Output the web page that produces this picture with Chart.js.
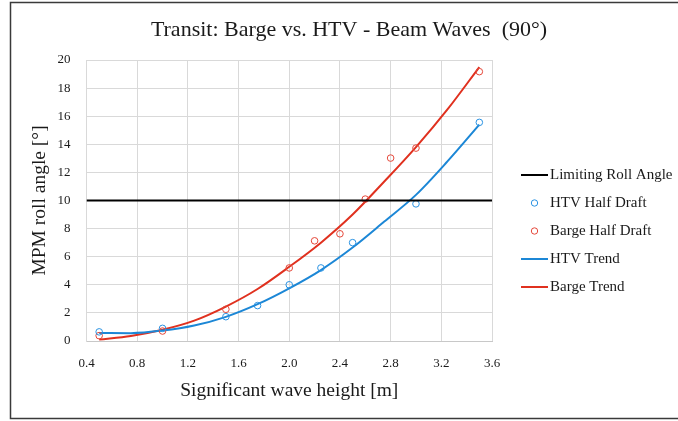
<!DOCTYPE html>
<html>
<head>
<meta charset="utf-8">
<script src="https://cdn.jsdelivr.net/npm/chart.js@4"></script>
<style>
html,body{margin:0;padding:0;background:#fff;}
#wrap{position:absolute;left:0;top:0;width:678px;height:421px;}
</style>
</head>
<body>
<div id="wrap"><canvas id="c" width="678" height="421"></canvas></div>
<script>
// ---- data ----
const limitX = [0.4, 3.6];
const limitY = [10, 10];

const htvX = [0.5, 1.0, 1.5, 1.75, 2.0, 2.25, 2.5, 3.0, 3.5];
const htvY = [0.65, 0.9, 1.73, 2.52, 4.0, 5.2, 7.0, 9.76, 15.56];

const bargeX = [0.5, 1.0, 1.5, 2.0, 2.2, 2.4, 2.6, 2.8, 3.0, 3.5];
const bargeY = [0.38, 0.71, 2.26, 5.2, 7.13, 7.63, 10.1, 13.02, 13.73, 19.17];

const trendX = [0.5, 0.75, 1.0, 1.25, 1.5, 1.75, 2.0, 2.25, 2.5, 2.75, 3.0, 3.25, 3.5];
const htvTrendY = [0.57, 0.56, 0.74, 1.1, 1.72, 2.62, 3.75, 5.05, 6.65, 8.5, 10.4, 12.8, 15.4];
const bargeTrendY = [0.1, 0.36, 0.8, 1.45, 2.45, 3.7, 5.28, 7.0, 9.0, 11.35, 13.8, 16.5, 19.5];

const xTicks = [0.4, 0.8, 1.2, 1.6, 2.0, 2.4, 2.8, 3.2, 3.6];
const yTicks = [0, 2, 4, 6, 8, 10, 12, 14, 16, 18, 20];

const seriesNames = ['Limiting Roll Angle', 'HTV Half Draft', 'Barge Half Draft', 'HTV Trend', 'Barge Trend'];
const titleText = 'Transit: Barge vs. HTV - Beam Waves  (90°)';
const xTitle = 'Significant wave height [m]';
const yTitle = 'MPM roll angle [°]';

const FONT = '"Liberation Serif", "Times New Roman", serif';
const TXT = '#1a1a1a';
const BLUE = '#1c87d6';
const RED = '#e0311f';
const BLUE_PT = '#2a92e2';
const RED_PT = '#e5483a';

function pts(xs, ys) { return xs.map((x, i) => ({x: x, y: ys[i]})); }

const frame = {
  id: 'frame',
  afterDraw(chart) {
    const ctx = chart.ctx;
    ctx.save();
    ctx.strokeStyle = '#3a3a3a';
    ctx.lineWidth = 1.5;
    ctx.strokeRect(10.5, 2.5, 680, 416);
    ctx.restore();
  }
};

const topTitle = {
  id: 'topTitle',
  afterDraw(chart) {
    const ctx = chart.ctx;
    ctx.save();
    ctx.font = '22px ' + FONT;
    ctx.fillStyle = TXT;
    ctx.textAlign = 'center';
    ctx.textBaseline = 'middle';
    ctx.fillText(titleText, 349, 30);
    ctx.restore();
  }
};

const sideLegend = {
  id: 'sideLegend',
  afterDraw(chart) {
    const ctx = chart.ctx;
    const ca = chart.chartArea;
    const x0 = ca.right + 29, x1 = ca.right + 56, tx = ca.right + 58;
    ctx.save();
    ctx.font = '15px ' + FONT;
    ctx.textBaseline = 'middle';
    ctx.textAlign = 'left';
    chart.data.datasets.forEach((ds, i) => {
      const y = 175 + i * 28;
      if (ds.showLine) {
        ctx.strokeStyle = ds.borderColor;
        ctx.lineWidth = ds.borderWidth;
        ctx.beginPath();
        ctx.moveTo(x0, y);
        ctx.lineTo(x1, y);
        ctx.stroke();
      } else {
        ctx.strokeStyle = ds.pointBorderColor;
        ctx.lineWidth = 1;
        ctx.beginPath();
        ctx.arc((x0 + x1) / 2, y, 3.2, 0, Math.PI * 2);
        ctx.stroke();
      }
      ctx.fillStyle = TXT;
      ctx.fillText(ds.label, tx, y + 0.5);
    });
    ctx.restore();
  }
};

new Chart(document.getElementById('c'), {
  type: 'scatter',
  data: {
    datasets: [
      {label: seriesNames[0], data: pts(limitX, limitY), showLine: true, borderColor: '#000', borderWidth: 2, pointRadius: 0},
      {label: seriesNames[1], data: pts(htvX, htvY), showLine: false, pointStyle: 'circle', pointRadius: 3.3, pointBorderWidth: 1, pointBorderColor: BLUE_PT, pointBackgroundColor: 'rgba(0,0,0,0)', borderColor: BLUE_PT},
      {label: seriesNames[2], data: pts(bargeX, bargeY), showLine: false, pointStyle: 'circle', pointRadius: 3.3, pointBorderWidth: 1, pointBorderColor: RED_PT, pointBackgroundColor: 'rgba(0,0,0,0)', borderColor: RED_PT},
      {label: seriesNames[3], data: pts(trendX, htvTrendY), showLine: true, borderColor: BLUE, borderWidth: 2, pointRadius: 0, cubicInterpolationMode: 'monotone'},
      {label: seriesNames[4], data: pts(trendX, bargeTrendY), showLine: true, borderColor: RED, borderWidth: 2, pointRadius: 0, cubicInterpolationMode: 'monotone'}
    ]
  },
  options: {
    responsive: false,
    animation: false,
    devicePixelRatio: 1,
    layout: {padding: {left: 20, right: 186, top: 60, bottom: 0}},
    plugins: {
      legend: {display: false},
      tooltip: {enabled: false},
      title: {display: false}
    },
    scales: {
      x: {
        type: 'linear',
        min: 0.4, max: 3.6,
        afterBuildTicks(scale) { scale.ticks = xTicks.map(v => ({value: v})); },
        afterFit(scale) { scale.height = 80; },
        grid: {color: '#d9d9d9', lineWidth: 1, drawTicks: false},
        border: {color: '#c8c8c8', width: 1},
        ticks: {
          padding: 15,
          color: TXT,
          font: {family: FONT, size: 13},
          callback: v => v.toFixed(1)
        },
        title: {
          display: true, text: xTitle, color: TXT,
          font: {family: FONT, size: 19.5},
          padding: {top: 0, bottom: 18}
        }
      },
      y: {
        type: 'linear',
        min: 0, max: 20,
        afterBuildTicks(scale) { scale.ticks = yTicks.map(v => ({value: v})); },
        afterFit(scale) { scale.width = 66.5; },
        grid: {color: '#d9d9d9', lineWidth: 1, drawTicks: false},
        border: {color: '#d9d9d9', width: 1},
        ticks: {
          padding: 16,
          color: TXT,
          font: {family: FONT, size: 13},
          callback: v => String(v)
        },
        title: {
          display: true, text: yTitle, color: TXT,
          font: {family: FONT, size: 19.5},
          padding: {top: 8, bottom: 0}
        }
      }
    }
  },
  plugins: [frame, topTitle, sideLegend]
});
</script>
</body>
</html>
